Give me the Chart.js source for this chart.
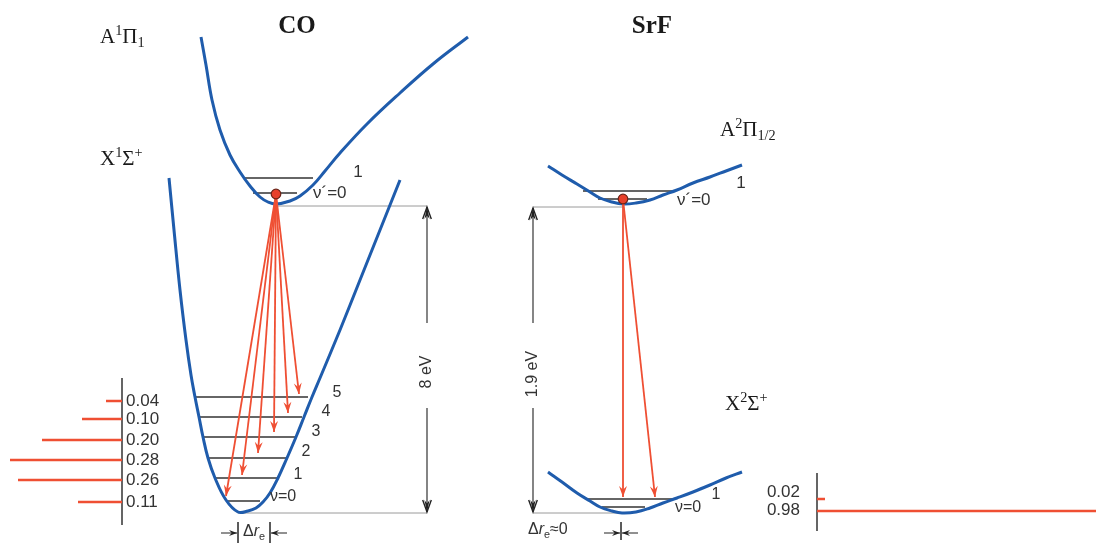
<!DOCTYPE html>
<html>
<head>
<meta charset="utf-8">
<script src="https://cdn.jsdelivr.net/npm/chart.js@4.4.1/dist/chart.umd.min.js"></script>
<style>
html, body { margin: 0; padding: 0; background: #fff; }
#wrap { width: 1096px; height: 543px; position: relative; }
</style>
</head>
<body>
<div id="wrap"><canvas id="grafik"></canvas></div>
<script>
// ---- data (r in arbitrary units, energy grows upward = smaller y) ----
// potential curves [r, E]
var coA  = [[201,37],[206,65],[212,100],[220,130],[230,155],[240,172],[250,186],[260,197],[268,202],[276,204],[290,201],[300,196],[313,185],[325,171],[340,153],[367,124],[400,93],[433,64],[468,37]]
var coX  = [[169,178],[174,230],[180,290],[186,340],[191,375],[195,397],[199,417],[203,437],[208,458],[215,478],[226,500],[238,512],[248,511],[256,508],[263,502],[270,493],[278,478],[287,458],[296,437],[304,417],[312,397],[320,378],[340,330],[360,280],[380,230],[400,180]]
var srfA = [[548,166],[562,175],[577,184],[590,192],[600,198],[612,202],[623,204],[636,203],[650,200],[663,195],[677,190],[693,183],[710,177],[726,171],[742,165]]
var srfX = [[548,472],[562,482],[577,493],[590,501],[600,507],[612,511],[622,513],[636,512],[650,508],[663,503],[677,498],[693,492],[710,485],[726,478],[742,472]]

// vibrational levels: energy, left r, right r
var coALevelE  = [193, 178]
var coALevelL  = [253, 243]
var coALevelR  = [297, 313]
var coXLevelE  = [501, 478, 458, 437, 417, 397]
var coXLevelL  = [227, 215, 208, 202, 198, 195]
var coXLevelR  = [260, 277, 287, 295, 302, 308]
var srfALevelE = [199, 191]
var srfALevelL = [598, 583]
var srfALevelR = [647, 675]
var srfXLevelE = [507, 499]
var srfXLevelL = [602, 585]
var srfXLevelR = [645, 673]

// excited molecule (v'=0) and decay arrow ends
var coStart   = [276, 194]
var coTips    = [[226,496],[242,475],[258,453],[274,432],[288,413],[299,394]]
var srfStart  = [623, 199]
var srfTips   = [[623,497],[655,497]]

// Franck-Condon factors
var coFC       = [0.11, 0.26, 0.28, 0.20, 0.10, 0.04]
var coFCy      = [502, 480, 460, 440, 419, 401]
var coFCLabels = ['0.11', '0.26', '0.28', '0.20', '0.10', '0.04']
var srfFC       = [0.98, 0.02]
var srfFCy      = [511, 499]
var srfFCLabels = ['0.98', '0.02']
var srfFCLabelY = [510, 492]

// energy gaps
var coGap  = { x: 427, top: 206, bottom: 513, label: '8 eV' }
var srfGap = { x: 533, top: 207, bottom: 513, label: '1.9 eV' }

// ---- styles ----
var BLUE = '#1f5cac'
var RED = '#ef4f33'
var DARK = '#333333'
var GREY = '#9a9a9a'
var fcZeroL = 122, fcZeroR = 817, fcPx = 400

function pts(arr) { return arr.map(function (p) { return {x: p[0], y: p[1]} }) }
function line(arr, color, width, extra) {
  var d = {data: pts(arr), showLine: true, borderColor: color, backgroundColor: color,
    borderWidth: width, pointRadius: 0, tension: 0, fill: false}
  for (var k in extra) d[k] = extra[k]
  return d
}

var datasets = []
// dots on top
datasets.push({data: pts([coStart, srfStart]), pointRadius: 4.8, pointBackgroundColor: '#e8402a',
  pointBorderColor: '#6b2418', pointBorderWidth: 1.2, showLine: false})
// decay arrows
coTips.forEach(function (t) { datasets.push(line([coStart, t], RED, 1.8, {arrowHead: 11})) })
srfTips.forEach(function (t) { datasets.push(line([srfStart, t], RED, 1.8, {arrowHead: 11})) })
// potentials
datasets.push(line(coA, BLUE, 3, {tension: 0.4}))
datasets.push(line(coX, BLUE, 3, {tension: 0.4}))
datasets.push(line(srfA, BLUE, 3, {tension: 0.4}))
datasets.push(line(srfX, BLUE, 3, {tension: 0.4}))
// levels
function levels(E, L, R) {
  E.forEach(function (e, i) { datasets.push(line([[L[i], e], [R[i], e]], DARK, 1.6)) })
}
levels(coALevelE, coALevelL, coALevelR)
levels(coXLevelE, coXLevelL, coXLevelR)
levels(srfALevelE, srfALevelL, srfALevelR)
levels(srfXLevelE, srfXLevelL, srfXLevelR)
// guides at the potential minima
datasets.push(line([[coA[9][0], coGap.top], [coGap.x, coGap.top]], GREY, 1))
datasets.push(line([[coX[11][0], coGap.bottom], [coGap.x, coGap.bottom]], GREY, 1))
datasets.push(line([[srfGap.x, srfGap.top], [srfA[6][0], srfGap.top]], GREY, 1))
datasets.push(line([[srfGap.x, srfGap.bottom], [srfX[6][0], srfGap.bottom]], GREY, 1))
// energy gap arrows
;[coGap, srfGap].forEach(function (g) {
  datasets.push(line([[g.x, 323], [g.x, g.top + 1]], '#222', 1.1, {arrowHead: 12, arrowOpen: true}))
  datasets.push(line([[g.x, 408], [g.x, g.bottom - 1]], '#222', 1.1, {arrowHead: 12, arrowOpen: true}))
})
// delta r_e markers
datasets.push(line([[238, 522], [238, 543]], '#444', 1))
datasets.push(line([[270, 522], [270, 543]], '#444', 1))
datasets.push(line([[221, 533], [237, 533]], '#222', 1, {arrowHead: 8}))
datasets.push(line([[287, 533], [271, 533]], '#222', 1, {arrowHead: 8}))
datasets.push(line([[621, 522], [621, 540]], '#444', 1))
datasets.push(line([[604, 533], [620, 533]], '#222', 1, {arrowHead: 8}))
datasets.push(line([[638, 533], [622, 533]], '#222', 1, {arrowHead: 8}))
// Franck-Condon bars
coFC.forEach(function (v, i) {
  datasets.push({data: [{x: 0, y: coFCy[i]}, {x: v, y: coFCy[i]}], xAxisID: 'fcL', showLine: true,
    borderColor: RED, borderWidth: 2.5, pointRadius: 0})
})
srfFC.forEach(function (v, i) {
  datasets.push({data: [{x: 0, y: srfFCy[i]}, {x: v, y: srfFCy[i]}], xAxisID: 'fcR', showLine: true,
    borderColor: RED, borderWidth: 2.5, pointRadius: 0})
})
datasets.push({data: [{x: 0, y: 378}, {x: 0, y: 525}], xAxisID: 'fcL', showLine: true, borderColor: '#333', borderWidth: 1.5, pointRadius: 0})
datasets.push({data: [{x: 0, y: 473}, {x: 0, y: 531}], xAxisID: 'fcR', showLine: true, borderColor: '#333', borderWidth: 1.5, pointRadius: 0})

// ---- text ----
var SERIF = '"Liberation Serif", "Times New Roman", serif'
var SANS = '"Liberation Sans", Arial, sans-serif'
var texts = [
  {parts: [['CO']], x: 297, y: 27, size: 25, bold: true, family: SERIF, align: 'center'},
  {parts: [['SrF']], x: 652, y: 27, size: 25, bold: true, family: SERIF, align: 'center'},
  {parts: [['A'], ['1', 'sup'], ['Π'], ['1', 'sub']], x: 100, y: 37, size: 21, family: SERIF},
  {parts: [['X'], ['1', 'sup'], ['Σ'], ['+', 'sup']], x: 100, y: 159, size: 21, family: SERIF},
  {parts: [['A'], ['2', 'sup'], ['Π'], ['1/2', 'sub']], x: 720, y: 130, size: 21, family: SERIF},
  {parts: [['X'], ['2', 'sup'], ['Σ'], ['+', 'sup']], x: 725, y: 404, size: 21, family: SERIF},
  {parts: [['ν´=0']], x: 313, y: 193, size: 17, family: SANS, color: DARK},
  {parts: [['1']], x: 358, y: 172, size: 17, family: SANS, color: DARK, align: 'center'},
  {parts: [['ν´=0']], x: 677, y: 200, size: 17, family: SANS, color: DARK},
  {parts: [['1']], x: 741, y: 183, size: 17, family: SANS, color: DARK, align: 'center'},
  {parts: [['ν=0']], x: 270, y: 497, size: 16, family: SANS, color: DARK},
  {parts: [['1']], x: 298, y: 475, size: 16, family: SANS, color: DARK, align: 'center'},
  {parts: [['2']], x: 306, y: 452, size: 16, family: SANS, color: DARK, align: 'center'},
  {parts: [['3']], x: 316, y: 432, size: 16, family: SANS, color: DARK, align: 'center'},
  {parts: [['4']], x: 326, y: 412, size: 16, family: SANS, color: DARK, align: 'center'},
  {parts: [['5']], x: 337, y: 393, size: 16, family: SANS, color: DARK, align: 'center'},
  {parts: [['ν=0']], x: 675, y: 508, size: 16, family: SANS, color: DARK},
  {parts: [['1']], x: 716, y: 495, size: 16, family: SANS, color: DARK, align: 'center'},
  {parts: [[coGap.label]], x: coGap.x, y: 372, size: 16, family: SANS, color: DARK, align: 'center', rotate: true},
  {parts: [[srfGap.label]], x: srfGap.x, y: 374, size: 16, family: SANS, color: DARK, align: 'center', rotate: true},
  {parts: [['Δ'], ['r', 'it'], ['e', 'sub']], x: 254, y: 532, size: 16, family: SANS, color: DARK, align: 'center'},
  {parts: [['Δ'], ['r', 'it'], ['e', 'sub'], ['≈0']], x: 528, y: 530, size: 16, family: SANS, color: DARK}
]
coFCLabels.forEach(function (t, i) {
  texts.push({parts: [[t]], x: fcZeroL + 4, y: coFCy[i], size: 17, family: SANS, color: DARK})
})
srfFCLabels.forEach(function (t, i) {
  texts.push({parts: [[t]], x: fcZeroR - 17, y: srfFCLabelY[i], size: 17, family: SANS, color: DARK, align: 'right'})
})

function drawRich(ctx, t, px, py) {
  var base = t.size
  function font(p) {
    var s = p[1] === 'sup' || p[1] === 'sub' ? base * 0.68 : base
    return (p[1] === 'it' ? 'italic ' : '') + (t.bold ? 'bold ' : '') + s + 'px ' + t.family
  }
  var w = 0
  t.parts.forEach(function (p) { ctx.font = font(p); w += ctx.measureText(p[0]).width })
  var x0 = t.align === 'center' ? -w / 2 : t.align === 'right' ? -w : 0
  ctx.save()
  ctx.translate(px, py)
  if (t.rotate) ctx.rotate(-Math.PI / 2)
  ctx.fillStyle = t.color || '#1a1a1a'
  ctx.textBaseline = 'middle'
  ctx.textAlign = 'left'
  var x = x0
  t.parts.forEach(function (p) {
    ctx.font = font(p)
    var dy = p[1] === 'sup' ? -base * 0.28 : p[1] === 'sub' ? base * 0.3 : 0
    ctx.fillText(p[0], x, dy)
    x += ctx.measureText(p[0]).width
  })
  ctx.restore()
}

var extras = {
  id: 'extras',
  afterDatasetsDraw: function (chart) {
    var ctx = chart.ctx
    chart.data.datasets.forEach(function (ds, i) {
      if (!ds.arrowHead) return
      var el = chart.getDatasetMeta(i).data
      var a = el[el.length - 2], b = el[el.length - 1]
      var ang = Math.atan2(b.y - a.y, b.x - a.x)
      var L = ds.arrowHead, W = L * 0.36
      ctx.save()
      ctx.translate(b.x, b.y)
      ctx.rotate(ang)
      ctx.beginPath()
      if (ds.arrowOpen) {
        ctx.moveTo(-L, -W); ctx.lineTo(0, 0); ctx.lineTo(-L, W)
        ctx.strokeStyle = ds.borderColor; ctx.lineWidth = 1.4
        ctx.stroke()
        ctx.beginPath()
        ctx.moveTo(0, 0); ctx.lineTo(-L, -W * 0.6); ctx.lineTo(-L * 0.7, 0); ctx.lineTo(-L, W * 0.6)
        ctx.closePath()
        ctx.fillStyle = ds.borderColor; ctx.fill()
      } else {
        ctx.moveTo(0, 0); ctx.lineTo(-L, -W); ctx.lineTo(-L * 0.65, 0); ctx.lineTo(-L, W)
        ctx.closePath()
        ctx.fillStyle = ds.borderColor; ctx.fill()
      }
      ctx.restore()
    })
    var xs = chart.scales.x, ys = chart.scales.y
    texts.forEach(function (t) { drawRich(ctx, t, xs.getPixelForValue(t.x), ys.getPixelForValue(t.y)) })
  }
}

new Chart(document.getElementById('grafik'), {
  type: 'scatter',
  data: {datasets: datasets},
  options: {
    responsive: true,
    maintainAspectRatio: false,
    animation: false,
    layout: {padding: 0, autoPadding: false},
    plugins: {legend: {display: false}, tooltip: {enabled: false}},
    scales: {
      x: {type: 'linear', min: 0, max: 1096, display: false},
      y: {type: 'linear', min: 0, max: 543, reverse: true, display: false},
      fcL: {type: 'linear', axis: 'x', reverse: true, min: -(1096 - fcZeroL) / fcPx, max: fcZeroL / fcPx, display: false},
      fcR: {type: 'linear', axis: 'x', min: -fcZeroR / fcPx, max: (1096 - fcZeroR) / fcPx, display: false}
    }
  },
  plugins: [extras]
})
</script>
</body>
</html>
